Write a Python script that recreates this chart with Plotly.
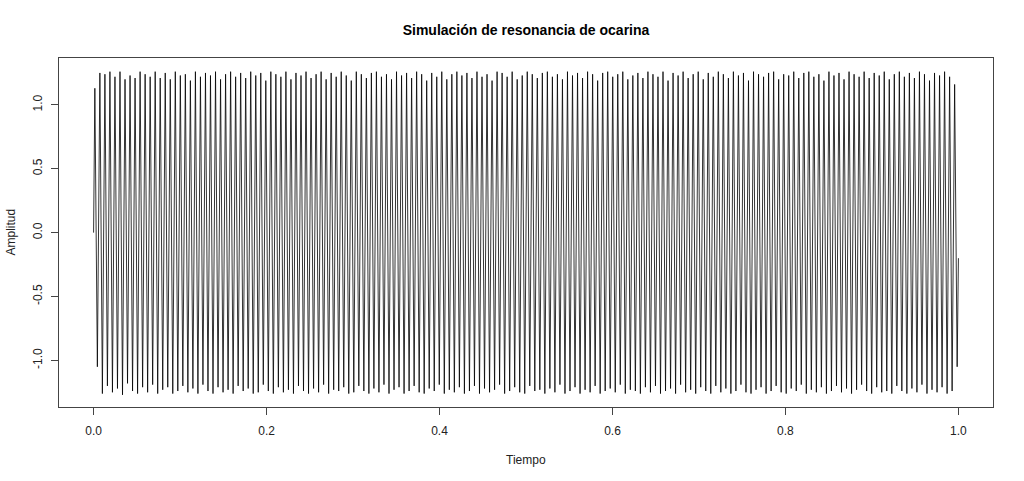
import plotly.graph_objects as go

# peak heights of each oscillation cycle (172 cycles)
tops = [
    1.13, 1.25, 1.24, 1.26, 1.22, 1.26, 1.20, 1.23, 1.21, 1.26,
    1.24, 1.22, 1.26, 1.21, 1.25, 1.20, 1.26, 1.23, 1.24, 1.19,
    1.26, 1.22, 1.25, 1.23, 1.26, 1.20, 1.24, 1.26, 1.22, 1.25,
    1.21, 1.26, 1.23, 1.25, 1.19, 1.26, 1.24, 1.22, 1.26, 1.20,
    1.25, 1.23, 1.26, 1.21, 1.24, 1.26, 1.20, 1.25, 1.22, 1.26,
    1.23, 1.19, 1.26, 1.24, 1.21, 1.25, 1.26, 1.22, 1.24, 1.20,
    1.26, 1.23, 1.25, 1.21, 1.26, 1.24, 1.19, 1.25, 1.22, 1.26,
    1.20, 1.24, 1.26, 1.23, 1.25, 1.21, 1.26, 1.22, 1.24, 1.19,
    1.26, 1.25, 1.22, 1.26, 1.20, 1.23, 1.26, 1.24, 1.21, 1.25,
    1.26, 1.22, 1.24, 1.20, 1.26, 1.23, 1.25, 1.21, 1.26, 1.24,
    1.19, 1.25, 1.26, 1.22, 1.24, 1.26, 1.20, 1.23, 1.25, 1.21,
    1.26, 1.24, 1.22, 1.26, 1.19, 1.25, 1.23, 1.26, 1.21, 1.24,
    1.26, 1.20, 1.25, 1.22, 1.26, 1.24, 1.21, 1.26, 1.23, 1.25,
    1.19, 1.26, 1.24, 1.22, 1.25, 1.26, 1.20, 1.24, 1.23, 1.26,
    1.21, 1.25, 1.26, 1.22, 1.24, 1.19, 1.26, 1.23, 1.25, 1.20,
    1.26, 1.24, 1.22, 1.26, 1.21, 1.25, 1.23, 1.26, 1.20, 1.24,
    1.26, 1.22, 1.25, 1.21, 1.26, 1.24, 1.19, 1.25, 1.23, 1.26,
    1.22, 1.16,
]
bottoms = [
    -1.05, -1.26, -1.20, -1.25, -1.22, -1.27, -1.18, -1.24, -1.26, -1.21,
    -1.25, -1.19, -1.26, -1.23, -1.21, -1.26, -1.24, -1.20, -1.25, -1.22,
    -1.26, -1.19, -1.24, -1.26, -1.21, -1.25, -1.23, -1.26, -1.20, -1.24,
    -1.22, -1.26, -1.25, -1.19, -1.24, -1.26, -1.21, -1.25, -1.23, -1.26,
    -1.20, -1.24, -1.26, -1.22, -1.25, -1.19, -1.26, -1.23, -1.24, -1.21,
    -1.26, -1.25, -1.20, -1.24, -1.26, -1.22, -1.25, -1.19, -1.26, -1.23,
    -1.21, -1.26, -1.24, -1.20, -1.25, -1.26, -1.22, -1.24, -1.19, -1.26,
    -1.23, -1.25, -1.21, -1.26, -1.24, -1.20, -1.26, -1.22, -1.25, -1.23,
    -1.19, -1.26, -1.24, -1.21, -1.25, -1.26, -1.20, -1.24, -1.23, -1.26,
    -1.22, -1.25, -1.19, -1.26, -1.24, -1.21, -1.26, -1.23, -1.25, -1.20,
    -1.26, -1.24, -1.22, -1.25, -1.19, -1.26, -1.23, -1.24, -1.26, -1.21,
    -1.25, -1.20, -1.26, -1.24, -1.22, -1.26, -1.19, -1.25, -1.23, -1.26,
    -1.21, -1.24, -1.26, -1.20, -1.25, -1.22, -1.26, -1.24, -1.19, -1.25,
    -1.26, -1.23, -1.21, -1.26, -1.24, -1.20, -1.25, -1.26, -1.22, -1.24,
    -1.19, -1.26, -1.23, -1.25, -1.21, -1.26, -1.24, -1.20, -1.25, -1.22,
    -1.26, -1.23, -1.19, -1.24, -1.26, -1.21, -1.25, -1.24, -1.26, -1.20,
    -1.24, -1.26, -1.22, -1.25, -1.19, -1.26, -1.23, -1.25, -1.21, -1.26,
    -1.24, -1.05,
]
start_value = 0.0
end_value = -0.20

x_ticks = [0.0, 0.2, 0.4, 0.6, 0.8, 1.0]
y_ticks = [-1.0, -0.5, 0.0, 0.5, 1.0]

# time axis: one top and one bottom per cycle, evenly spread over [0, 1]
n = len(tops)
t = [0.0]
amp = [start_value]
for k in range(n):
    t.append((k + 0.25) / n)
    amp.append(tops[k])
    t.append((k + 0.75) / n)
    amp.append(bottoms[k])
t.append(1.0)
amp.append(end_value)

fig = go.Figure()
fig.add_trace(go.Scatter(
    x=t, y=amp, mode="lines",
    line=dict(color="black", width=0.8),
    showlegend=False, hoverinfo="skip",
))

axis_font = dict(family="Liberation Sans, Arial, sans-serif", size=12, color="#222")

fig.update_layout(
    width=1024, height=481,
    margin=dict(l=59, r=31, t=58, b=74),
    paper_bgcolor="white", plot_bgcolor="white",
    title=dict(
        text="<b>Simulación de resonancia de ocarina</b>",
        x=0.5, xref="paper", y=1 - 30 / 481, yref="container",
        xanchor="center", yanchor="middle",
        font=dict(family="Liberation Sans, Arial, sans-serif", size=14, color="black"),
    ),
    xaxis=dict(
        range=[-0.04, 1.04], tickvals=x_ticks, ticktext=["%.1f" % v for v in x_ticks],
        ticks="outside", ticklen=7, tickcolor="#444", tickwidth=1,
        showline=True, linecolor="#444", linewidth=1, mirror=True,
        showgrid=False, zeroline=False, tickfont=axis_font,
        ticklabelstandoff=6,
    ),
    yaxis=dict(
        range=[-1.365, 1.367], tickvals=y_ticks, ticktext=["%.1f" % v for v in y_ticks],
        ticks="outside", ticklen=7, tickcolor="#444", tickwidth=1,
        showline=True, linecolor="#444", linewidth=1, mirror=True,
        showgrid=False, zeroline=False, tickfont=axis_font, tickangle=-90,
        ticklabelstandoff=4,
    ),
    annotations=[
        dict(text="Tiempo", xref="paper", yref="paper", x=0.5, y=0,
             yshift=-53, showarrow=False, xanchor="center", yanchor="middle",
             font=axis_font),
        dict(text="Amplitud", xref="paper", yref="paper", x=0, y=0.5,
             xshift=-49, textangle=-90, showarrow=False,
             xanchor="center", yanchor="middle", font=axis_font),
    ],
)

fig.write_html("out.html", config={"displayModeBar": False},
               post_script="document.body.style.margin='0';")
